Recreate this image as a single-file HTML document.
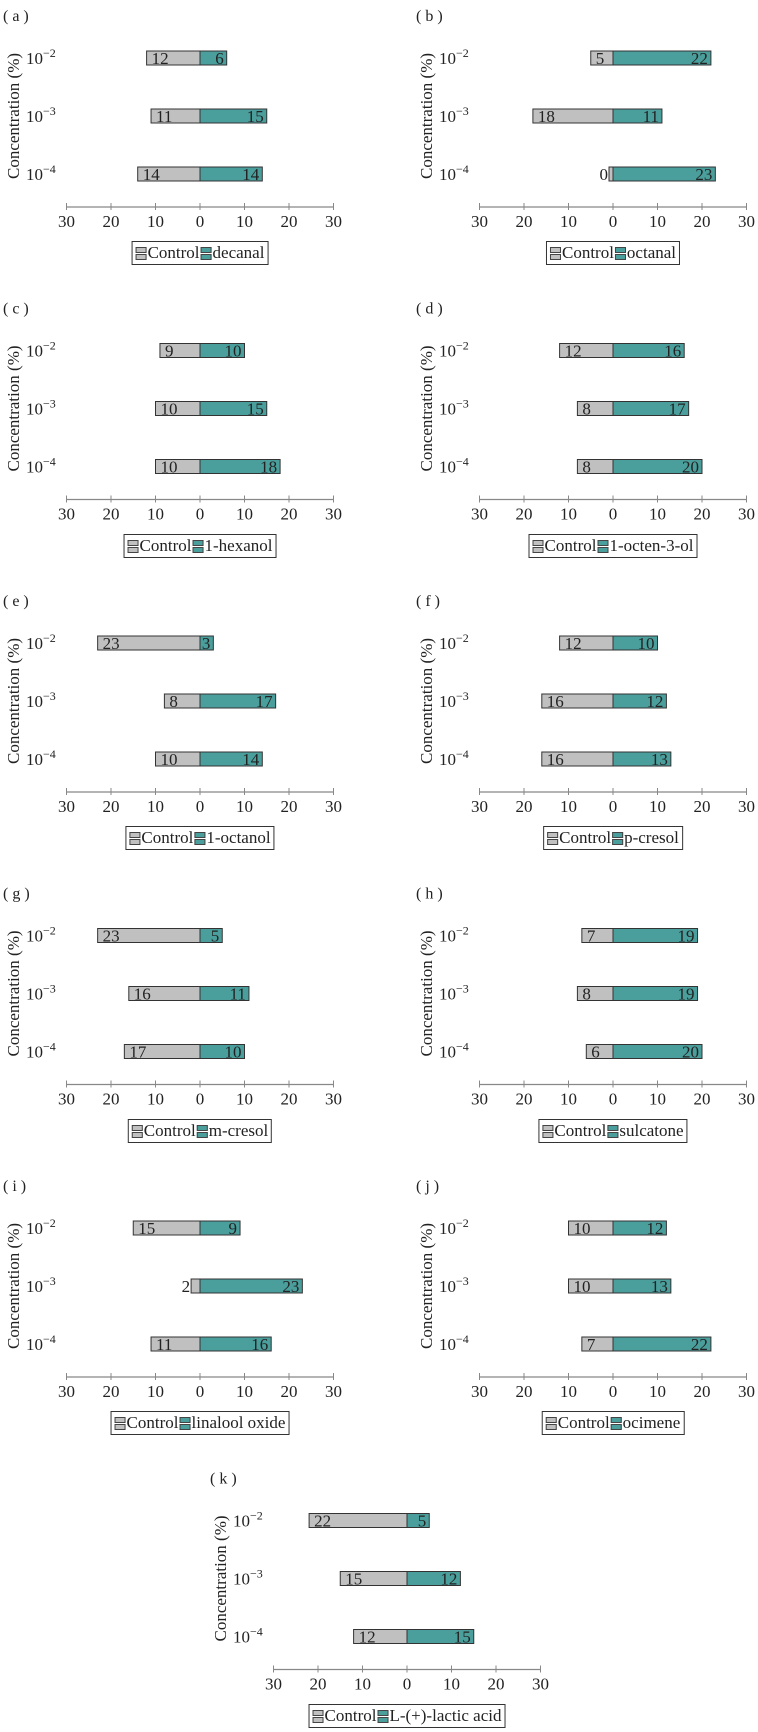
<!DOCTYPE html>
<html><head><meta charset="utf-8">
<style>
body{margin:0;background:#fff;}
#wrap{position:relative;width:758px;height:1732px;overflow:hidden;font-family:"Liberation Serif",serif;}
svg{position:absolute;left:0;top:0;}
.legend{position:absolute;height:22px;border:1px solid #333;background:#fff;font-size:17px;line-height:22px;white-space:nowrap;padding:0 3px;transform:translateX(-50%);color:#222;}
.ico{display:inline-block;width:11px;height:14px;vertical-align:-2px;margin-right:1px;position:relative;}
.ico i{position:absolute;left:0;width:9px;height:4px;border:1px solid #444;}
</style></head>
<body>
<div id="wrap">
<svg id="fig" width="758" height="1732"></svg>
</div>
<script>
const panelLabels = ["(a)","(b)","(c)","(d)","(e)","(f)","(g)","(h)","(i)","(j)","(k)"];
const compounds = ["decanal","octanal","1-hexanol","1-octen-3-ol","1-octanol","p-cresol","m-cresol","sulcatone","linalool oxide","ocimene","L-(+)-lactic acid"];
const concentrations = ["−2","−3","−4"];
const controlValues = [[12,11,14],[5,18,0],[9,10,10],[12,8,8],[23,8,10],[12,16,16],[23,16,17],[7,8,6],[15,2,11],[10,10,7],[22,15,12]];
const compoundValues = [[6,15,14],[22,11,23],[10,15,18],[16,17,20],[3,17,14],[10,12,13],[5,11,10],[19,19,20],[9,23,16],[12,13,22],[5,12,15]];
const xTicks = [-30,-20,-10,0,10,20,30];

const NS="http://www.w3.org/2000/svg";
const svg=document.getElementById('fig');
const wrap=document.getElementById('wrap');
const GRAY="#c0c0c0", TEAL="#4a9f9c";
function mk(tag,attrs,parent){const e=document.createElementNS(NS,tag);for(const k in attrs)e.setAttribute(k,attrs[k]);(parent||svg).appendChild(e);return e;}

panelLabels.forEach((lab,p)=>{
  const row=Math.floor(p/2);
  const ox = p===10 ? 207 : (p%2)*413;
  const oy = row*292.5;
  const x0=200+ox;
  const sx=v=>x0+v*4.45;
  const yc=i=>oy+58+i*58;
  const g=mk('g',{});
  
  
  const t=mk('text',{x:3+ox,y:oy+21,'font-size':16,fill:'#222','font-family':'Liberation Serif, serif'},g);
  t.textContent=lab.replace('(','( ').replace(')',' )');
  
  
  const yt=mk('text',{transform:`translate(${ox+19},${oy+116}) rotate(-90)`,'text-anchor':'middle','font-size':17,fill:'#222','font-family':'Liberation Serif, serif'},g);
  yt.textContent='Concentration (%)';
  
  
  concentrations.forEach((c,i)=>{
    const tt=mk('text',{x:ox+26,y:yc(i)+6,'font-size':17,fill:'#222','font-family':'Liberation Serif, serif'},g);
    tt.innerHTML='10<tspan dy="-7" font-size="12">'+c+'</tspan>';
    
    
    const cv=controlValues[p][i], tv=compoundValues[p][i];
    const cw=Math.max(sx(0)-sx(-cv),4);
    const rc=mk('rect',{x:x0-cw,y:yc(i)-7,width:cw,height:14,fill:GRAY,stroke:'#333','stroke-width':1},g);
    
    
    const rt=mk('rect',{x:x0,y:yc(i)-7,width:sx(tv)-x0,height:14,fill:TEAL,stroke:'#333','stroke-width':1},g);
    
    
    const lc=mk('text',{y:yc(i)+6,'font-size':17,fill:'#222','font-family':'Liberation Serif, serif'},g);
    if(cw>=14){lc.setAttribute('x',x0-cw+5);}else{lc.setAttribute('x',x0-cw-1);lc.setAttribute('text-anchor','end');}
    lc.textContent=cv;
    
    
    const lt=mk('text',{x:sx(tv)-3,y:yc(i)+6,'text-anchor':'end','font-size':17,fill:'#222','font-family':'Liberation Serif, serif'},g);
    lt.textContent=tv;
    
    
  });
  const ay=oy+207;
  const ax=mk('line',{x1:sx(-30),x2:sx(30),y1:ay,y2:ay,stroke:'#888','stroke-width':1.2},g);
  
  
  xTicks.forEach(v=>{
    mk('line',{x1:sx(v),x2:sx(v),y1:ay-4,y2:ay+3,stroke:'#888','stroke-width':1},g);
    const tl=mk('text',{x:sx(v),y:ay+20,'text-anchor':'middle','font-size':17,fill:'#222','font-family':'Liberation Serif, serif'},g);
    tl.textContent=Math.abs(v);
    
    
  });
  const lg=document.createElement('div');
  lg.className='legend';
  lg.style.left=x0+'px';
  lg.style.top=(oy+241)+'px';
  lg.innerHTML=`<span class="ico"><i style="top:1px;background:${GRAY}"></i><i style="top:8px;background:${GRAY}"></i></span>Control<span class="ico" style="margin-left:1px"><i style="top:1px;background:${TEAL}"></i><i style="top:8px;background:${TEAL}"></i></span>${compounds[p]}`;
  
  
  wrap.appendChild(lg);
});
</script>
</body></html>
